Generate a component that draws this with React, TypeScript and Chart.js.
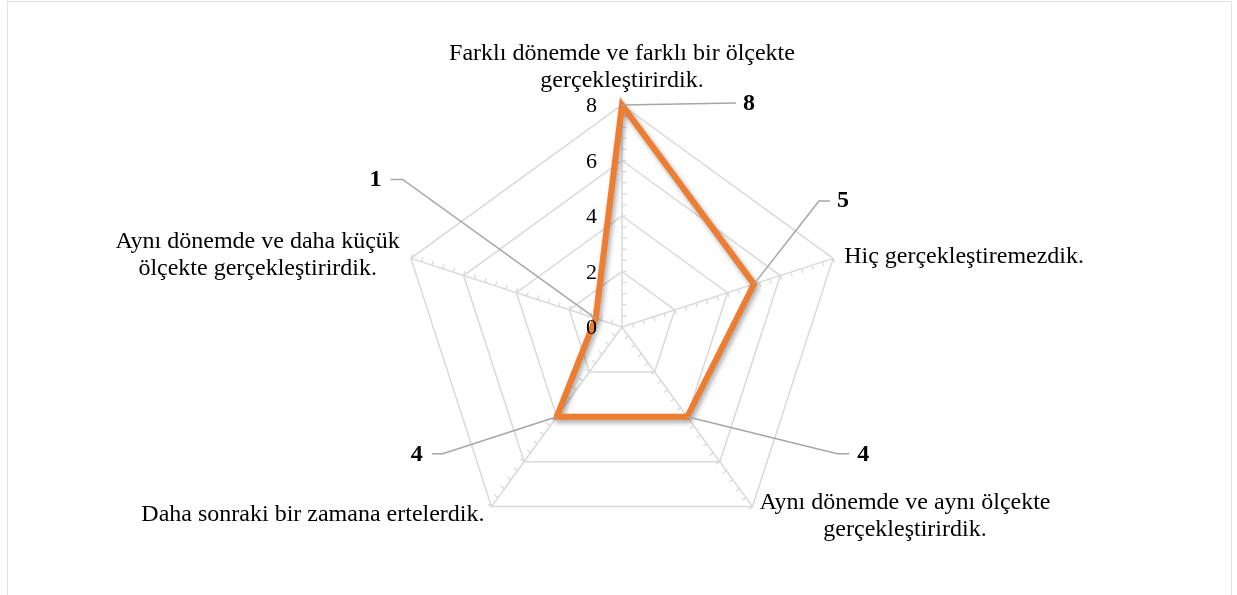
import React, { useEffect, useRef } from "react";
import { Chart, registerables } from "chart.js";

Chart.register(...registerables);

// ---- data ----
const categories: string[][] = [
  ["Farklı dönemde ve farklı bir ölçekte", "gerçekleştirirdik."],
  ["Hiç gerçekleştiremezdik."],
  ["Aynı dönemde ve aynı ölçekte", "gerçekleştirirdik."],
  ["Daha sonraki bir zamana ertelerdik."],
  ["Aynı dönemde ve daha küçük", "ölçekte gerçekleştirirdik."],
];
const values: number[] = [8, 5, 4, 4, 1];
const tickValues: number[] = [0, 2, 4, 6, 8];
const axisMin = 0;
const axisMax = 8;
const majorStep = 2;
const minorStep = 0.4;

// ---- styles ----
const FONT_FAMILY = '"Liberation Serif", "Times New Roman", serif';
const ORANGE = "#ED7D31";
const GRID = "#d9d9d9";
const LEADER = "#a6a6a6";

type Block = "center" | "left" | "right";
const catLabelStyle: { block: Block; dx: number; dy: number }[] = [
  { block: "center", dx: 0, dy: -45 },
  { block: "left", dx: 11, dy: 5 },
  { block: "left", dx: 7, dy: 2 },
  { block: "right", dx: -7, dy: 14 },
  { block: "right", dx: -11, dy: -10 },
];
const leaderStyle: { elbow: [number, number]; end: [number, number]; text: [number, number] }[] = [
  { elbow: [114, -2], end: [114, -2], text: [127, -1] },
  { elbow: [65, -83], end: [76, -83], text: [89, -83] },
  { elbow: [150, 37], end: [162, 37], text: [176, 38] },
  { elbow: [-114, 37], end: [-125, 37], text: [-140, 38] },
  { elbow: [-193, -139], end: [-205, -139], text: [-220, -139] },
];

const borderPlugin = {
  id: "outerBorder",
  beforeDraw(chart: any) {
    const ctx = chart.ctx;
    ctx.save();
    ctx.fillStyle = "#ffffff";
    ctx.fillRect(0, 0, chart.width, chart.height);
    ctx.strokeStyle = "#e2e2e2";
    ctx.lineWidth = 1;
    ctx.strokeRect(7.5, 1.5, 1224, 800);
    ctx.restore();
  },
};

const minorTicksPlugin = {
  id: "minorTicks",
  beforeDatasetsDraw(chart: any) {
    const scale = chart.scales.r;
    const ctx = chart.ctx;
    const cx = scale.xCenter;
    const cy = scale.yCenter;
    ctx.save();
    ctx.strokeStyle = GRID;
    ctx.lineWidth = 1.3;
    const n = chart.data.labels.length;
    const count = Math.round((axisMax - axisMin) / minorStep);
    for (let i = 0; i < n; i++) {
      for (let k = 1; k <= count; k++) {
        const v = axisMin + k * minorStep;
        const p = scale.getPointPosition(i, scale.getDistanceFromCenterForValue(v));
        const dx = p.x - cx;
        const dy = p.y - cy;
        const len = Math.hypot(dx, dy) || 1;
        const ux = dx / len;
        const uy = dy / len;
        const px = -uy;
        const py = ux;
        ctx.beginPath();
        ctx.moveTo(p.x, p.y);
        ctx.lineTo(p.x + px * 4.5, p.y + py * 4.5);
        ctx.stroke();
      }
    }
    ctx.restore();
  },
};

const shadowPlugin = {
  id: "lineShadow",
  beforeDatasetDraw(chart: any) {
    const ctx = chart.ctx;
    ctx.save();
    ctx.shadowColor = "rgba(0,0,0,0.35)";
    ctx.shadowBlur = 5;
    ctx.shadowOffsetX = 2;
    ctx.shadowOffsetY = 3;
  },
  afterDatasetDraw(chart: any) {
    chart.ctx.restore();
  },
};

const labelsPlugin = {
  id: "radarLabels",
  afterDatasetsDraw(chart: any) {
    const scale = chart.scales.r;
    const ctx = chart.ctx;
    const cx = scale.xCenter;
    ctx.save();

    // category labels
    ctx.font = `24px ${FONT_FAMILY}`;
    ctx.fillStyle = "#000000";
    ctx.textBaseline = "alphabetic";
    ctx.textAlign = "center";
    const labels: string[][] = chart.data.labels;
    labels.forEach((lines, i) => {
      const st = catLabelStyle[i];
      const v = scale.getPointPosition(i, scale.drawingArea);
      const maxW = Math.max(...lines.map((l) => ctx.measureText(l).width));
      const ax = v.x + st.dx;
      const bx = st.block === "center" ? ax : st.block === "left" ? ax + maxW / 2 : ax - maxW / 2;
      lines.forEach((l, j) => {
        ctx.fillText(l, bx, v.y + st.dy + j * 27);
      });
    });

    // tick labels
    ctx.font = `22px ${FONT_FAMILY}`;
    ctx.textAlign = "right";
    tickValues.forEach((t) => {
      const p = scale.getPointPosition(0, scale.getDistanceFromCenterForValue(t));
      ctx.fillText(String(t), cx - 25, p.y + 7);
    });

    // leader lines + data labels
    const meta = chart.getDatasetMeta(0);
    const data: number[] = chart.data.datasets[0].data;
    ctx.strokeStyle = LEADER;
    ctx.lineWidth = 1.5;
    ctx.font = `bold 24px ${FONT_FAMILY}`;
    ctx.textAlign = "center";
    ctx.textBaseline = "middle";
    meta.data.forEach((pt: any, i: number) => {
      const st = leaderStyle[i];
      ctx.beginPath();
      ctx.moveTo(pt.x, pt.y);
      ctx.lineTo(pt.x + st.elbow[0], pt.y + st.elbow[1]);
      ctx.lineTo(pt.x + st.end[0], pt.y + st.end[1]);
      ctx.stroke();
      ctx.fillText(String(data[i]), pt.x + st.text[0], pt.y + st.text[1]);
    });

    ctx.restore();
  },
};

export default function App() {
  const ref = useRef<HTMLCanvasElement>(null);

  useEffect(() => {
    const canvas = ref.current;
    if (!canvas) return;
    const chart = new Chart(canvas, {
      type: "radar",
      data: {
        labels: categories as any,
        datasets: [
          {
            data: values,
            borderColor: ORANGE,
            backgroundColor: "transparent",
            borderWidth: 6,
            fill: false,
            pointRadius: 0,
            pointHoverRadius: 0,
            tension: 0,
          },
        ],
      },
      options: {
        responsive: false,
        animation: false,
        devicePixelRatio: 1,
        layout: { padding: { top: 105, bottom: 46, left: 400, right: 393 } },
        plugins: {
          legend: { display: false },
          tooltip: { enabled: false },
        },
        scales: {
          r: {
            min: axisMin,
            max: axisMax,
            ticks: { display: false, stepSize: majorStep },
            pointLabels: { display: false },
            grid: { color: GRID, lineWidth: 1.5 },
            angleLines: { color: GRID, lineWidth: 1.5 },
          },
        },
      },
      plugins: [borderPlugin, minorTicksPlugin, shadowPlugin, labelsPlugin],
    });
    return () => chart.destroy();
  }, []);

  return (
    <div style={{ position: "absolute", left: 0, top: 0, width: 1237, height: 595 }}>
      <canvas ref={ref} width={1237} height={595} style={{ display: "block", width: 1237, height: 595 }} />
    </div>
  );
}
